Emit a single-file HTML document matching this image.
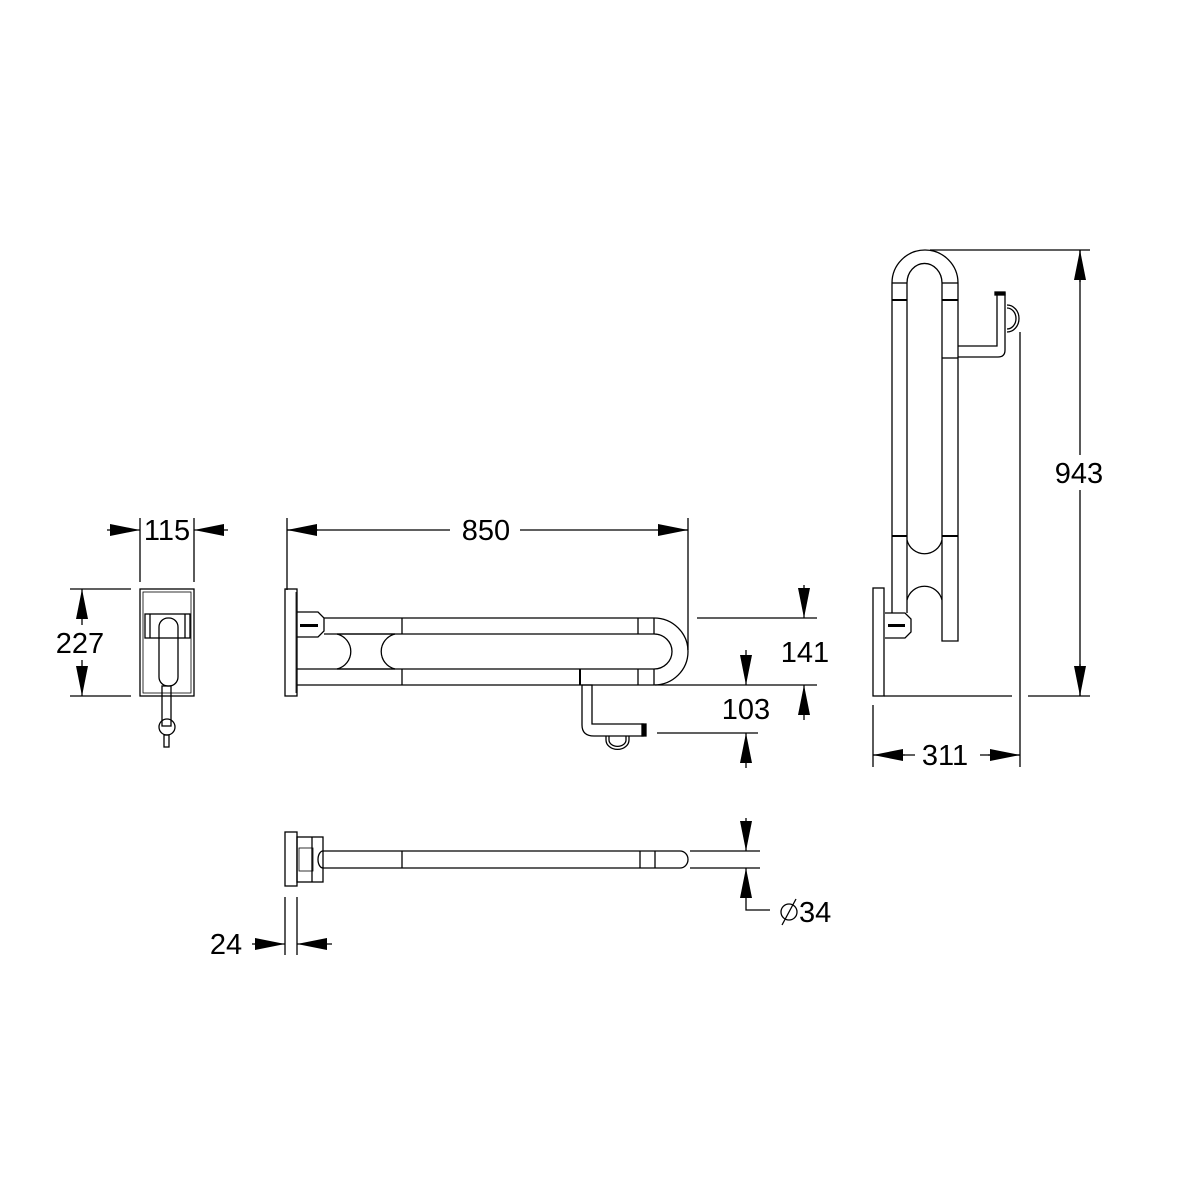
<!DOCTYPE html>
<html><head><meta charset="utf-8"><style>html,body{margin:0;padding:0;background:#fff}svg{display:block}text{font-family:"Liberation Sans",Arial,sans-serif;font-size:29px;fill:#000}</style></head><body>
<svg width="1181" height="1181" viewBox="0 0 1181 1181" xmlns="http://www.w3.org/2000/svg">
<defs>
<marker id="a" viewBox="0 0 30 12" refX="30" refY="6" markerWidth="30" markerHeight="12" markerUnits="userSpaceOnUse" orient="auto"><path d="M0,0 L30,6 L0,12 Z" fill="#000"/></marker>
</defs>
<g fill="none" stroke="#000" stroke-width="1.3">
<rect x="140" y="589" width="54" height="107"/>
<rect x="143" y="592" width="48" height="101" stroke-width="0.8"/>
<rect x="145" y="614" width="45" height="24"/>
<line x1="150" y1="614" x2="150" y2="638"/><line x1="185" y1="614" x2="185" y2="638"/>
<rect x="159" y="618" width="19" height="68" rx="9"/>
<rect x="162" y="686" width="9" height="40"/>
<circle cx="167" cy="727" r="8"/>
<rect x="164" y="735" width="5" height="12"/>
<line x1="140" y1="518" x2="140" y2="582"/><line x1="194" y1="518" x2="194" y2="582"/>
<line x1="107" y1="530" x2="140" y2="530" marker-end="url(#a)"/>
<line x1="228" y1="530" x2="194" y2="530" marker-end="url(#a)"/>
<line x1="70" y1="589" x2="131" y2="589"/><line x1="70" y1="696" x2="131" y2="696"/>
<line x1="82" y1="625" x2="82" y2="589" marker-end="url(#a)"/>
<line x1="82" y1="660" x2="82" y2="696" marker-end="url(#a)"/>

<rect x="285" y="589" width="12" height="107"/>
<line x1="296" y1="592" x2="296" y2="693" stroke-width="0.8"/>
<path d="M297,612 L318,612 L324,618 L324,631 L318,637 L297,637"/>
<rect x="300" y="624" width="18" height="3" fill="#000" stroke="none"/>
<line x1="324" y1="618" x2="654" y2="618"/>
<line x1="324" y1="634" x2="654" y2="634"/>
<line x1="297" y1="669" x2="654" y2="669"/>
<line x1="297" y1="685" x2="654" y2="685"/>
<line x1="402" y1="618" x2="402" y2="634"/><line x1="402" y1="669" x2="402" y2="685"/>
<line x1="638" y1="618" x2="638" y2="634"/><line x1="638" y1="669" x2="638" y2="685"/>
<line x1="654" y1="618" x2="654" y2="634"/><line x1="654" y1="669" x2="654" y2="685"/>
<path d="M654,618 A34,33.5 0 0 1 654,685"/>
<path d="M654,634 A18,17.5 0 0 1 654,669"/>
<path d="M337,634 L395,634 M337,669 L395,669"/>
<path d="M337,634 A18,18 0 0 1 337,669 M395,634 A18,18 0 0 0 395,669"/>
<line x1="580" y1="669" x2="580" y2="685" stroke-width="2"/>
<path d="M582,685 L582,725 Q582,736 594,736 L643,736 L643,724 L592,724 L592,685 Z"/>
<rect x="642" y="724" width="4" height="12" fill="#000"/>
<path d="M606,736 L606,740 A11,9 0 0 0 629,740 L629,736"/>
<path d="M609,736 L609,740 A8,6 0 0 0 626,740 L626,736"/>
<line x1="287" y1="518" x2="287" y2="590"/>
<line x1="688" y1="518" x2="688" y2="650"/>
<line x1="287" y1="530" x2="450" y2="530"/>
<line x1="520" y1="530" x2="688" y2="530"/>
<line x1="318" y1="530" x2="287" y2="530" marker-end="url(#a)"/>
<line x1="658" y1="530" x2="688" y2="530" marker-end="url(#a)"/>
<line x1="697" y1="618" x2="817" y2="618"/>
<line x1="655" y1="685" x2="817" y2="685"/>
<line x1="804" y1="585" x2="804" y2="618" marker-end="url(#a)"/>
<line x1="804" y1="720" x2="804" y2="685" marker-end="url(#a)"/>
<line x1="657" y1="733" x2="758" y2="733"/>
<line x1="746" y1="650" x2="746" y2="685" marker-end="url(#a)"/>
<line x1="746" y1="768" x2="746" y2="733" marker-end="url(#a)"/>

<rect x="285" y="832" width="12" height="54"/>
<rect x="297" y="837" width="26" height="45"/>
<line x1="312" y1="837" x2="312" y2="882"/>
<rect x="299" y="848" width="14" height="23" stroke-width="0.8"/>
<line x1="323" y1="851" x2="680" y2="851"/>
<line x1="323" y1="868" x2="680" y2="868"/>
<path d="M680,851 A8,8.5 0 0 1 680,868"/>
<path d="M323,851 A5,8.5 0 0 0 323,868"/>
<line x1="402" y1="851" x2="402" y2="868"/>
<line x1="640" y1="851" x2="640" y2="868"/>
<line x1="655" y1="851" x2="655" y2="868"/>
<line x1="690" y1="851" x2="760" y2="851"/>
<line x1="690" y1="868" x2="760" y2="868"/>
<line x1="746" y1="818" x2="746" y2="851" marker-end="url(#a)"/>
<line x1="746" y1="900" x2="746" y2="868" marker-end="url(#a)"/>
<path d="M746,900 L746,910 L770,910"/>
<line x1="285" y1="897" x2="285" y2="955"/><line x1="297" y1="897" x2="297" y2="955"/>
<line x1="252" y1="944" x2="285" y2="944" marker-end="url(#a)"/>
<line x1="332" y1="944" x2="297" y2="944" marker-end="url(#a)"/>
<circle cx="789" cy="912" r="8"/>
<line x1="782" y1="925" x2="796" y2="899"/>

<rect x="873" y="588" width="11" height="108"/>
<path d="M885,613 L905,613 L911,619 L911,632 L905,638 L885,638"/>
<rect x="888" y="624" width="17" height="3" fill="#000" stroke="none"/>
<path d="M892,613 L892,283 A33,33 0 0 1 958,283 L958,641 L942,641 L942,283 A17,19 0 0 0 907,283 L907,613"/>
<line x1="892" y1="283" x2="907" y2="283"/><line x1="942" y1="283" x2="958" y2="283"/>
<line x1="892" y1="300" x2="907" y2="300" stroke-width="2"/><line x1="942" y1="300" x2="958" y2="300" stroke-width="2"/>
<line x1="892" y1="536" x2="907" y2="536" stroke-width="2"/><line x1="942" y1="536" x2="958" y2="536" stroke-width="2"/>
<line x1="942" y1="358" x2="958" y2="358"/>
<path d="M907,540 A18,18 0 0 0 942,540 M907,600 A18,18 0 0 1 942,600"/>
<path d="M958,346 L997,346 L997,293 L1005,293 L1005,350 Q1005,357 998,357 L958,357"/>
<rect x="995" y="292" width="10" height="3" fill="#000"/>
<path d="M1007,305 A12,13.5 0 0 1 1007,332 M1007,308 A9,10.5 0 0 1 1007,329"/>
<line x1="930" y1="250" x2="1090" y2="250"/>
<line x1="884" y1="696" x2="1012" y2="696"/>
<line x1="1028" y1="696" x2="1090" y2="696"/>
<line x1="1080" y1="250" x2="1080" y2="455"/>
<line x1="1080" y1="490" x2="1080" y2="696"/>
<line x1="1080" y1="282" x2="1080" y2="250" marker-end="url(#a)"/>
<line x1="1080" y1="664" x2="1080" y2="696" marker-end="url(#a)"/>
<line x1="873" y1="705" x2="873" y2="767"/>
<line x1="1020" y1="332" x2="1020" y2="767"/>
<line x1="873" y1="755" x2="915" y2="755"/>
<line x1="980" y1="755" x2="1020" y2="755"/>
<line x1="905" y1="755" x2="873" y2="755" marker-end="url(#a)"/>
<line x1="988" y1="755" x2="1020" y2="755" marker-end="url(#a)"/>
</g>
<g>
<text x="167" y="540" text-anchor="middle">115</text>
<text x="80" y="653" text-anchor="middle">227</text>
<text x="486" y="540" text-anchor="middle">850</text>
<text x="805" y="662" text-anchor="middle">141</text>
<text x="746" y="719" text-anchor="middle">103</text>
<text x="1079" y="483" text-anchor="middle">943</text>
<text x="945" y="765" text-anchor="middle">311</text>
<text x="226" y="954" text-anchor="middle">24</text>
<text x="799" y="922">34</text>
</g>
</svg>
</body></html>
